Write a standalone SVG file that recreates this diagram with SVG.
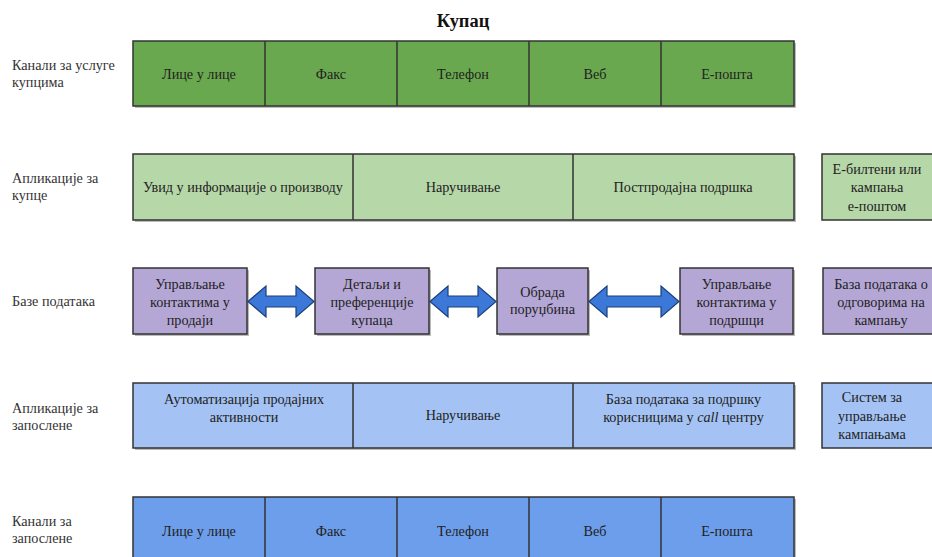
<svg xmlns="http://www.w3.org/2000/svg" width="932" height="557" viewBox="0 0 932 557">
  <style>
    .lbl { font-family: 'Liberation Serif', 'DejaVu Serif', serif; font-size: 14.2px; fill: #333; }
    .txt { font-family: 'Liberation Serif', 'DejaVu Serif', serif; font-size: 14.2px; fill: #222; text-anchor: middle; }
    .title { font-family: 'Liberation Serif', 'DejaVu Serif', serif; font-size: 18.4px; font-weight: bold; fill: #111; text-anchor: middle; }
    .box { stroke: #333; stroke-width: 1.5; }
    .shadow { fill: #bbb; }
    .g1 { fill: #6aa84f; }
    .g2 { fill: #b6d7a8; }
    .p3 { fill: #b4a7d6; }
    .b4 { fill: #a4c2f4; }
    .b5 { fill: #6d9eeb; }
    .div { stroke: #333; stroke-width: 1.5; fill: none; }
    .arrow { fill: #3c78d8; stroke: #1c3f7a; stroke-width: 1.2; stroke-linejoin: miter; }
  </style>

  <text class="title" x="463" y="27">Купац</text>

  <!-- row labels -->
  <g id="row-labels">
    <text class="lbl" x="12" y="69.5">Канали за услуге</text>
    <text class="lbl" x="12" y="86.5">купцима</text>
    <text class="lbl" x="12" y="183">Апликације за</text>
    <text class="lbl" x="12" y="200">купце</text>
    <text class="lbl" x="12" y="306">Базе података</text>
    <text class="lbl" x="12" y="413">Апликације за</text>
    <text class="lbl" x="12" y="430">запослене</text>
    <text class="lbl" x="12" y="526">Канали за</text>
    <text class="lbl" x="12" y="543">запослене</text>
  </g>

  <!-- customer channels -->
  <g id="customer-channels">
    <rect class="shadow" x="135" y="43" width="661" height="65"/>
    <rect class="box g1" x="133" y="41" width="661" height="65"/>
    <path class="div" d="M265 41V106M397 41V106M529 41V106M661 41V106"/>
    <text class="txt" x="199" y="79">Лице у лице</text>
    <text class="txt" x="331" y="79">Факс</text>
    <text class="txt" x="463" y="79">Телефон</text>
    <text class="txt" x="595" y="79">Веб</text>
    <text class="txt" x="727" y="79">Е-пошта</text>
  </g>

  <!-- customer applications -->
  <g id="customer-apps">
    <rect class="shadow" x="135" y="156" width="661" height="66"/>
    <rect class="box g2" x="133" y="154" width="661" height="66"/>
    <path class="div" d="M353 154V220M573 154V220"/>
    <text class="txt" x="243" y="192">Увид у информације о производу</text>
    <text class="txt" x="463" y="192">Наручивање</text>
    <text class="txt" x="683" y="192">Постпродајна подршка</text>
  </g>
  <g id="newsletters">
    <rect class="box g2" x="822" y="154" width="120" height="66"/>
    <text class="txt" x="877" y="174">Е-билтени или</text>
    <text class="txt" x="877" y="192">кампања</text>
    <text class="txt" x="877" y="210.5">е-поштом</text>
  </g>

  <!-- databases -->
  <g id="db-sales-contacts">
    <rect class="shadow" x="135" y="270" width="114" height="66"/>
    <rect class="box p3" x="133" y="268" width="114" height="66"/>
    <text class="txt" x="190" y="289">Управљање</text>
    <text class="txt" x="190" y="307">контактима у</text>
    <text class="txt" x="190" y="325">продаји</text>
  </g>
  <g id="db-customer-prefs">
    <rect class="shadow" x="317" y="270" width="114" height="66"/>
    <rect class="box p3" x="315" y="268" width="114" height="66"/>
    <text class="txt" x="372" y="289">Детаљи и</text>
    <text class="txt" x="372" y="307">преференције</text>
    <text class="txt" x="372" y="325">купаца</text>
  </g>
  <g id="db-orders">
    <rect class="shadow" x="499" y="270" width="91" height="66"/>
    <rect class="box p3" x="497" y="268" width="91" height="66"/>
    <text class="txt" x="542.5" y="297">Обрада</text>
    <text class="txt" x="542.5" y="314">поруџбина</text>
  </g>
  <g id="db-support-contacts">
    <rect class="shadow" x="682" y="270" width="113" height="66"/>
    <rect class="box p3" x="680" y="268" width="113" height="66"/>
    <text class="txt" x="736.5" y="289">Управљање</text>
    <text class="txt" x="736.5" y="307">контактима у</text>
    <text class="txt" x="736.5" y="325">подршци</text>
  </g>
  <g id="db-campaign-responses">
    <rect class="box p3" x="823" y="268" width="120" height="66"/>
    <text class="txt" x="881" y="289">База података о</text>
    <text class="txt" x="881" y="307">одговорима на</text>
    <text class="txt" x="881" y="325">кампању</text>
  </g>

  <!-- connectors between databases -->
  <g id="connectors">
    <polygon class="arrow" points="248,301.5 266,286 266,296 296,296 296,286 314,301.5 296,317 296,307 266,307 266,317"/>
    <polygon class="arrow" points="430,301.5 448,286 448,296 478,296 478,286 496,301.5 478,317 478,307 448,307 448,317"/>
    <polygon class="arrow" points="589,301.5 607,286 607,296 661,296 661,286 679,301.5 661,317 661,307 607,307 607,317"/>
  </g>

  <!-- employee applications -->
  <g id="employee-apps">
    <rect class="shadow" x="135" y="385" width="661" height="65"/>
    <rect class="box b4" x="133" y="383" width="661" height="65"/>
    <path class="div" d="M353 383V448M573 383V448"/>
    <text class="txt" x="244" y="404">Аутоматизација продајних</text>
    <text class="txt" x="244" y="422">активности</text>
    <text class="txt" x="463" y="420">Наручивање</text>
    <text class="txt" x="683.5" y="404">База података за подршку</text>
    <text class="txt" x="683.5" y="422">корисницима у <tspan font-style="italic">call</tspan> центру</text>
  </g>
  <g id="campaign-system">
    <rect class="box b4" x="822" y="383" width="120" height="65"/>
    <text class="txt" x="872" y="402">Систем за</text>
    <text class="txt" x="872" y="420.5">управљање</text>
    <text class="txt" x="872" y="439">кампањама</text>
  </g>

  <!-- employee channels -->
  <g id="employee-channels">
    <rect class="shadow" x="135" y="499" width="661" height="70"/>
    <rect class="box b5" x="133" y="497" width="661" height="70"/>
    <path class="div" d="M265 497V567M397 497V567M529 497V567M661 497V567"/>
    <text class="txt" x="199" y="536">Лице у лице</text>
    <text class="txt" x="331" y="536">Факс</text>
    <text class="txt" x="463" y="536">Телефон</text>
    <text class="txt" x="595" y="536">Веб</text>
    <text class="txt" x="727" y="536">Е-пошта</text>
  </g>
</svg>
